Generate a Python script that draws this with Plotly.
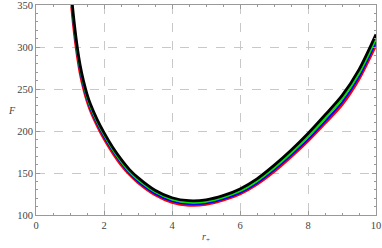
import plotly.graph_objects as go

r_vals = [1.0, 1.1, 1.2, 1.3, 1.4, 1.5, 1.6, 1.8, 2.0, 2.25, 2.5, 2.75, 3.0, 3.5,
          4.0, 4.5, 5.0, 5.5, 6.0, 6.5, 7.0, 7.5, 8.0, 8.5, 9.0, 9.5, 10.0]
F_black = [380, 338, 304, 278, 259, 244, 232, 213.5, 198, 181, 166.5, 154, 144.5, 129.5,
           120.5, 117, 118, 123, 131, 143, 159, 177, 197, 219, 242, 273, 315]
F_green = [376, 334, 300, 274.5, 256, 241, 229, 211, 195.5, 178.5, 164, 151.5, 142, 127.5,
           118.5, 115, 116, 121, 128.5, 140.5, 156, 174, 193.5, 215, 238, 268.5, 310]
F_blue = [372, 330, 297, 271.5, 253, 238.5, 226.5, 208.5, 193, 176.5, 162, 149.5, 140, 125.5,
          116.5, 113, 114, 119, 126.5, 138, 153.5, 171, 190, 211.5, 234, 264.5, 306]
F_red = [368, 326, 293, 268, 250, 235.5, 224, 206, 190.5, 174, 159.5, 148, 138.5, 124,
         115, 111.5, 112.5, 117.5, 125, 136.5, 151.5, 169, 188, 209, 231, 261.5, 302]

x_ticks = [0, 2, 4, 6, 8, 10]
y_ticks = [100, 150, 200, 250, 300, 350]

fig = go.Figure()
for ys, col, w in [(F_red, "#ff0000", 2.6), (F_blue, "#0000ff", 2.0),
                   (F_green, "#00e600", 2.2), (F_black, "#000000", 2.8)]:
    fig.add_trace(go.Scatter(x=r_vals, y=ys, mode="lines",
                             line=dict(color=col, width=w, shape="spline", smoothing=0.8),
                             showlegend=False, hoverinfo="skip"))

tick_font = dict(family="Liberation Serif, Times New Roman, serif", size=10.5, color="#444")
axis_common = dict(
    showline=True, linecolor="#999", linewidth=1, mirror="ticks",
    ticks="inside", ticklen=4, tickcolor="#999", tickwidth=1,
    showgrid=True, gridcolor="#c8c8c8", griddash="dash", gridwidth=1,
    zeroline=False, tickfont=tick_font, automargin=False, ticklabeloverflow="allow",
)
fig.update_xaxes(range=[0, 10], tickvals=x_ticks, ticktext=[str(v) for v in x_ticks],
                 minor=dict(dtick=0.5, ticklen=2, ticks="inside", tickcolor="#999", showgrid=False),
                 **axis_common)
fig.update_yaxes(range=[100, 350], tickvals=y_ticks, ticktext=[str(v) for v in y_ticks],
                 minor=dict(dtick=10, ticklen=2, ticks="inside", tickcolor="#999", showgrid=False),
                 **axis_common)

fig.update_layout(
    width=382, height=248,
    margin=dict(l=36, r=6, t=5, b=33),
    plot_bgcolor="white", paper_bgcolor="white",
    annotations=[
        dict(text="<i>F</i>", xref="paper", yref="paper", x=-0.088, y=0.5,
             showarrow=False, font=dict(family="Liberation Serif, serif", size=10, color="#444")),
        dict(text="<i>r</i><sub>+</sub>", xref="paper", yref="paper", x=0.5, y=-0.105,
             yanchor="middle", showarrow=False,
             font=dict(family="Liberation Serif, serif", size=10, color="#444")),
    ],
)
fig.write_html("out.html", config={"displayModeBar": False},
               post_script="document.body.style.margin='0';document.body.style.overflow='hidden';")
